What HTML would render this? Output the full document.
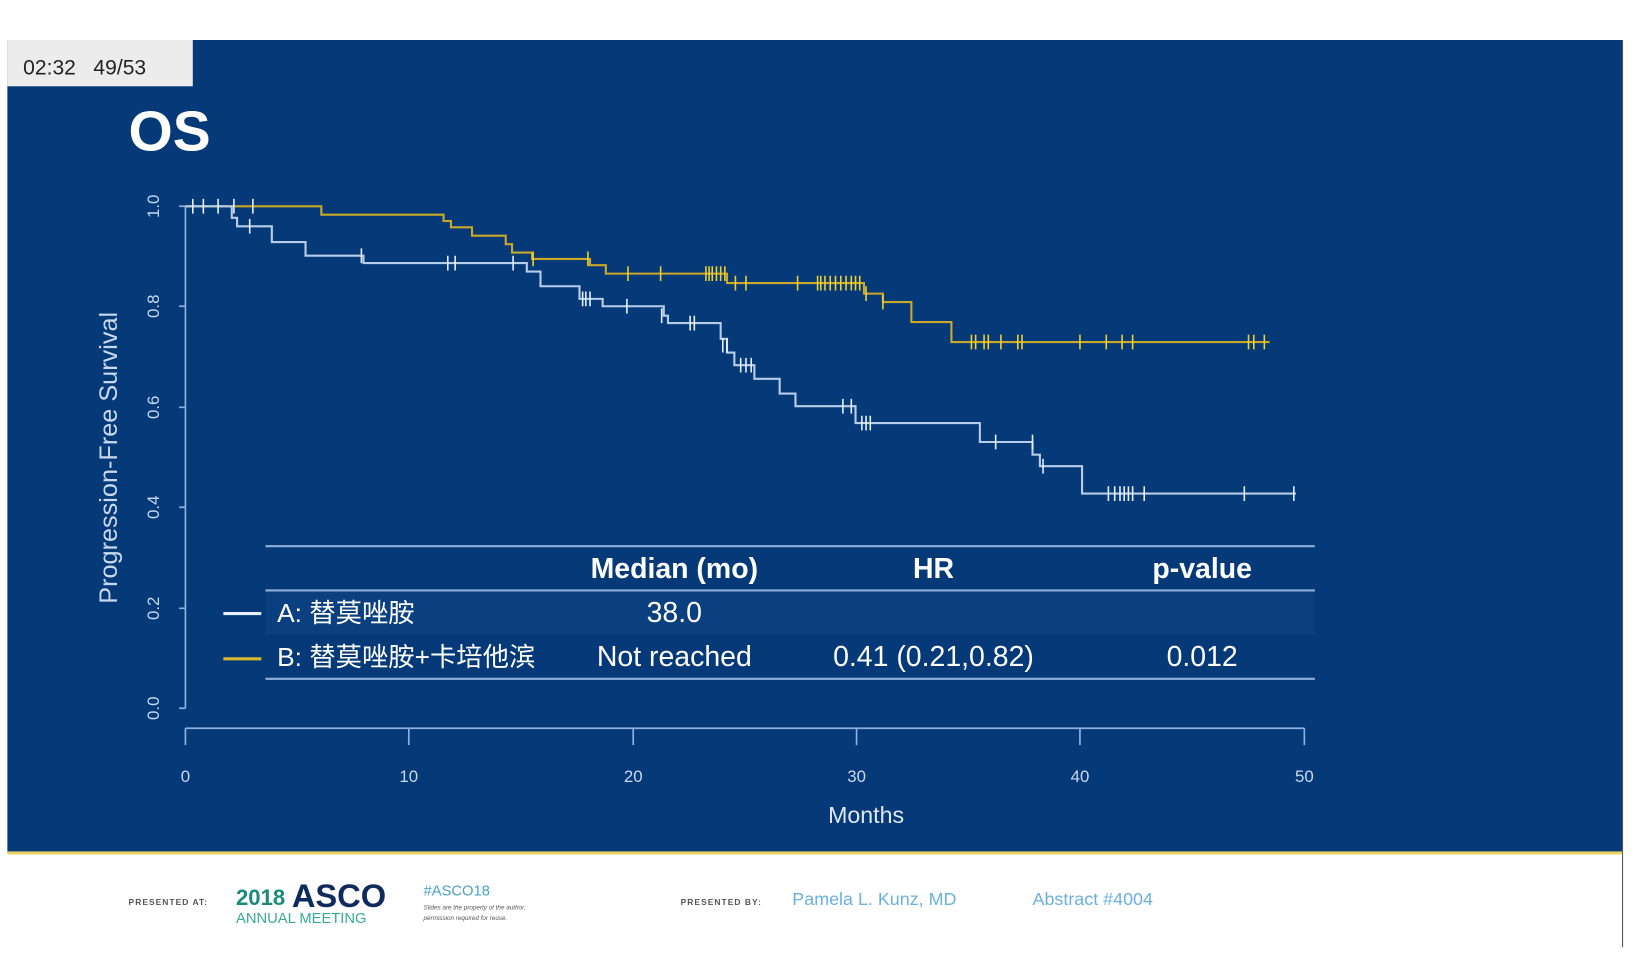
<!DOCTYPE html>
<html><head><meta charset="utf-8"><style>
html,body{margin:0;padding:0;background:#fff;}
svg{display:block;}
text{font-family:"Liberation Sans","Noto Sans CJK SC",sans-serif;}
</style></head><body>
<svg width="1651" height="964" viewBox="0 0 1567 916" preserveAspectRatio="none" xmlns="http://www.w3.org/2000/svg">
<rect x="0" y="0" width="1600" height="920" fill="#fff"/>
<rect x="7" y="38" width="1533" height="772" fill="#053977"/>
<rect x="7" y="809" width="1533" height="3" fill="#e8d36a"/>
<line x1="1540" y1="38" x2="1540" y2="900" stroke="#555" stroke-width="1"/>
<rect x="7" y="38" width="176" height="44" fill="#ececec"/>
<text x="22" y="71" font-size="20" fill="#222" xml:space="preserve">02:32   49/53</text>
<text x="122" y="143" font-size="54" font-weight="bold" fill="#fff">OS</text>
<!-- axes -->
<g stroke="#8fb0dc" stroke-width="1.6" fill="none">
<path d="M176 196 V673 M170 196 H176 M170 291 H176 M170 387 H176 M170 482 H176 M170 578 H176 M170 673 H176"/>
<path d="M176 692 H1238 M176 692 V708 M388 692 V708 M601 692 V708 M813 692 V708 M1025 692 V708 M1238 692 V708"/>
</g>
<g fill="#c8d8ee" font-size="16" text-anchor="middle">
<text transform="translate(151 196) rotate(-90)">1.0</text>
<text transform="translate(151 291) rotate(-90)">0.8</text>
<text transform="translate(151 387) rotate(-90)">0.6</text>
<text transform="translate(151 482) rotate(-90)">0.4</text>
<text transform="translate(151 578) rotate(-90)">0.2</text>
<text transform="translate(151 673) rotate(-90)">0.0</text>
<text x="176" y="743">0</text><text x="388" y="743">10</text><text x="601" y="743">20</text>
<text x="813" y="743">30</text><text x="1025" y="743">40</text><text x="1238" y="743">50</text>
</g>
<text transform="translate(111 435) rotate(-90)" font-size="24" fill="#c8d8ee" text-anchor="middle">Progression-Free Survival</text>
<text x="822" y="782" font-size="22" fill="#e0e8f4" text-anchor="middle">Months</text>
<!-- curves -->
<path fill="none" stroke="#c9a82a" stroke-width="2" d="M176 196 H305 V204 H421 V210 H428 V216 H448 V224 H480 V232 H486 V240 H505 V246 H560 V252 H575 V260 H690 V269 H820 V279 H838 V287 H865 V306 H903 V325 H1205"/>
<path fill="none" stroke="#f0d030" stroke-width="1.5" d="M506 239v14 M558 239v14 M596 253v14 M627 253v14 M670 253v14 M673 253v14 M676 253v14 M680 253v14 M684 253v14 M688 253v14 M698 262v14 M708 262v14 M757 262v14 M776 262v14 M779 262v14 M783 262v14 M788 262v14 M793 262v14 M798 262v14 M803 262v14 M808 262v14 M812 262v14 M816 262v14 M822 272v14 M838 280v14 M922 318v14 M926 318v14 M934 318v14 M938 318v14 M950 318v14 M966 318v14 M970 318v14 M1025 318v14 M1050 318v14 M1065 318v14 M1075 318v14 M1185 318v14 M1190 318v14 M1200 318v14"/>
<path fill="none" stroke="#b8cde8" stroke-width="2" d="M176 196 H220 V207 H225 V215 H258 V230 H290 V243 H345 V250 H500 V258 H513 V272 H550 V284 H572 V291 H630 V300 H634 V307 H684 V322 H690 V335 H697 V347 H716 V360 H740 V374 H755 V386 H812 V402 H930 V420 H980 V432 H987 V443 H1027 V469 H1230"/>
<path fill="none" stroke="#e8f0ff" stroke-width="1.5" d="M183 189v14 M193 189v14 M207 189v14 M222 189v14 M240 189v14 M237 208v14 M343 236v14 M425 243v14 M432 243v14 M487 243v14 M553 277v14 M556 277v14 M560 277v14 M595 284v14 M628 293v14 M655 300v14 M659 300v14 M686 321v14 M690 321v14 M703 340v14 M708 340v14 M713 340v14 M800 379v14 M808 379v14 M818 395v14 M822 395v14 M826 395v14 M945 413v14 M980 413v14 M990 436v14 M1052 462v14 M1058 462v14 M1063 462v14 M1067 462v14 M1071 462v14 M1075 462v14 M1086 462v14 M1181 462v14 M1228 462v14"/>
<!-- table -->
<rect x="252" y="561" width="996" height="42" fill="#0a3f80"/>
<g stroke="#8fb0dc" stroke-width="2"><line x1="252" y1="519" x2="1248" y2="519"/><line x1="252" y1="561" x2="1248" y2="561"/><line x1="252" y1="645" x2="1248" y2="645"/></g>
<g font-size="27" fill="#fff" text-anchor="middle">
<text x="640" y="549" font-weight="bold">Median (mo)</text>
<text x="886" y="549" font-weight="bold">HR</text>
<text x="1141" y="549" font-weight="bold">p-value</text>
<text x="640" y="591">38.0</text>
<text x="640" y="633">Not reached</text>
<text x="886" y="633">0.41 (0.21,0.82)</text>
<text x="1141" y="633">0.012</text>
</g>
<line x1="212" y1="583" x2="248" y2="583" stroke="#e8f0ff" stroke-width="3"/>
<line x1="212" y1="626" x2="248" y2="626" stroke="#d8b82a" stroke-width="3"/>
<text x="263" y="591" font-size="25" fill="#fff">A: 替莫唑胺</text>
<text x="263" y="633" font-size="25" fill="#fff">B: 替莫唑胺+卡培他滨</text>
<!-- footer -->
<text x="122" y="860" font-size="8" fill="#555" font-weight="bold" letter-spacing="1">PRESENTED AT:</text>
<text x="224" y="860" font-size="21" fill="#1a8a7a" font-weight="bold">2018</text>
<text x="277" y="862" font-size="31" fill="#0f2a5c" font-weight="bold">ASCO</text>
<text x="224" y="877" font-size="14" fill="#3aaa94">ANNUAL MEETING</text>
<text x="402" y="851" font-size="14" fill="#4aa0c8">#ASCO18</text>
<text x="402" y="864" font-size="6" fill="#555" font-style="italic">Slides are the property of the author,</text>
<text x="402" y="874" font-size="6" fill="#555" font-style="italic">permission required for reuse.</text>
<text x="646" y="860" font-size="8" fill="#555" font-weight="bold" letter-spacing="1">PRESENTED BY:</text>
<text x="752" y="860" font-size="17" fill="#6ab0e0">Pamela L. Kunz, MD</text>
<text x="980" y="860" font-size="17" fill="#6ab0e0">Abstract #4004</text>
</svg>
</body></html>
